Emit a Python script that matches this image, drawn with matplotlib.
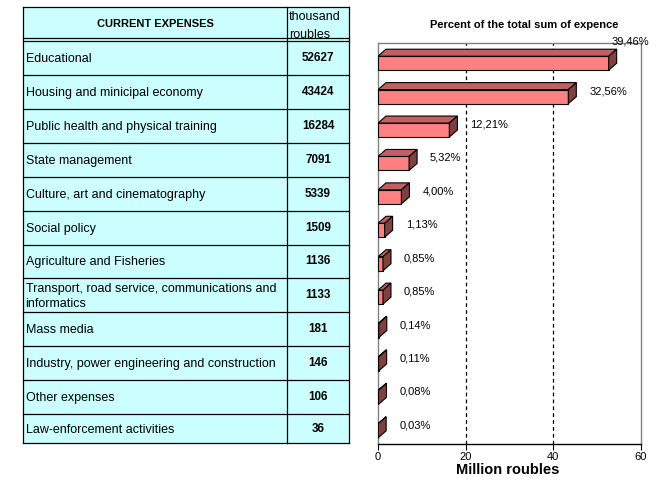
import matplotlib
matplotlib.use("Agg")
import matplotlib.pyplot as plt
from matplotlib.patches import Rectangle, Polygon
import numpy as np

plt.rcParams['font.family'] = ['Liberation Sans', 'DejaVu Sans']

# ---------------- data ----------------
categories = [
    "Educational",
    "Housing and minicipal economy",
    "Public health and physical training",
    "State management",
    "Culture, art and cinematography",
    "Social policy",
    "Agriculture and Fisheries",
    "Transport, road service, communications and\ninformatics",
    "Mass media",
    "Industry, power engineering and construction",
    "Other expenses",
    "Law-enforcement activities",
]
values_thousand = [52627, 43424, 16284, 7091, 5339, 1509, 1136, 1133, 181, 146, 106, 36]
percent_labels = ["39,46%", "32,56%", "12,21%", "5,32%", "4,00%", "1,13%",
                  "0,85%", "0,85%", "0,14%", "0,11%", "0,08%", "0,03%"]
header = ["CURRENT EXPENSES", "thousand\nroubles"]
x_ticks = [0, 20, 40, 60]
chart_title = "Percent of the total sum of expence"
x_label = "Million roubles"

# ---------------- layout helpers ----------------
W, H = 660, 480
fig = plt.figure(figsize=(W / 100, H / 100), dpi=100)
fig.patch.set_facecolor('white')


def fb(x0, y0, x1, y1):
    """pixel box (top-left origin) -> figure fraction rect"""
    return [x0 / W, 1 - y1 / H, (x1 - x0) / W, (y1 - y0) / H]


# ---------------- table ----------------
n = len(categories)
tax = fig.add_axes(fb(23, 7, 349, 443))
row_h = [1.0] * n
row_h[-1] = 0.85
total_h = 1.0 + sum(row_h)
tax.set_xlim(0, 1)
tax.set_ylim(total_h, 0)
tax.axis('off')
split = 0.81
bg = '#CCFFFF'
lw = 0.9
tax.add_patch(Rectangle((0, 0), 1, total_h, facecolor=bg, edgecolor='none', zorder=0))

tax.text(split / 2, 0.5, header[0], ha='center', va='center', fontsize=8, fontweight='bold')
tax.text(split + 0.006, 0.56, header[1], ha='left', va='center', fontsize=9, linespacing=1.6)

y = 1.0
for i, (c, v) in enumerate(zip(categories, values_thousand)):
    h = row_h[i]
    tax.text(0.008, y + h / 2 + 0.03, c, ha='left', va='center', fontsize=9, linespacing=1.4)
    tax.text((split + 1) / 2, y + h / 2, str(v), ha='center', va='center',
             fontsize=8.4, fontweight='bold')
    y += h
    if i < n - 1:
        tax.plot([0, 1], [y, y], color='black', lw=lw, clip_on=False)

# borders
tax.plot([0, 1], [0, 0], color='black', lw=lw, clip_on=False)
tax.plot([0, 1], [total_h, total_h], color='black', lw=lw, clip_on=False)
tax.plot([0, 1], [0.91, 0.91], color='black', lw=lw, clip_on=False)
tax.plot([0, 1], [1.0, 1.0], color='black', lw=lw, clip_on=False)
for xv in (0, split, 1):
    tax.plot([xv, xv], [0, total_h], color='black', lw=lw, clip_on=False)

# ---------------- 3D bar chart ----------------
ax = fig.add_axes(fb(378, 43, 641, 444))
vals = np.array(values_thousand) / 1000.0
ax.set_xlim(0, 60)
ax.set_ylim(n - 0.5, -0.5)

px_x = (641 - 378) / 60.0       # pixels per x unit
px_y = (444 - 43) / float(n)    # pixels per category
dx = 8.0 / px_x
dy = 7.0 / px_y
fh = 14.0 / px_y
front_top_off = -(fh + dy) / 2 + dy

front_c = '#FF8080'
top_c = '#C06060'
side_c = '#804040'

for xv in (20, 40):
    ax.axvline(xv, color='black', lw=0.9, ls=(0, (3, 2.5)), zorder=1)

ypos = np.arange(n)
ax.barh(ypos + front_top_off + fh / 2, vals, height=fh, color=front_c,
        edgecolor='black', linewidth=0.8, zorder=3)
for i, v in enumerate(vals):
    top = i + front_top_off
    bot = top + fh
    ax.add_patch(Polygon([(0, top), (v, top), (v + dx, top - dy), (dx, top - dy)],
                         closed=True, facecolor=top_c, edgecolor='black', lw=0.8, zorder=3))
    ax.add_patch(Polygon([(v, top), (v + dx, top - dy), (v + dx, bot - dy), (v, bot)],
                         closed=True, facecolor=side_c, edgecolor='black', lw=0.8, zorder=4))
    if i == 0:
        off = (3, 18)
    else:
        off = (21, 2)
    ax.annotate(percent_labels[i], xy=(v, i), xytext=off, textcoords='offset pixels',
                ha='left', va='center', fontsize=8, annotation_clip=False, zorder=5)

for s in ('left', 'top', 'right'):
    ax.spines[s].set_color('#808080')
    ax.spines[s].set_linewidth(1.0)
ax.spines['bottom'].set_color('black')
ax.spines['bottom'].set_linewidth(1.0)
ax.set_xticks(x_ticks)
ax.set_xticklabels([str(t) for t in x_ticks])
ax.tick_params(axis='x', direction='out', length=4, width=0.8, labelsize=8, pad=2)
ax.set_yticks([])

fig.text(524 / W, 1 - 25 / H, chart_title, ha='center', va='center',
         fontsize=8, fontweight='bold')
fig.text(508 / W, 1 - 470 / H, x_label, ha='center', va='center',
         fontsize=10.5, fontweight='bold')

fig.savefig('out.png', dpi=100)
